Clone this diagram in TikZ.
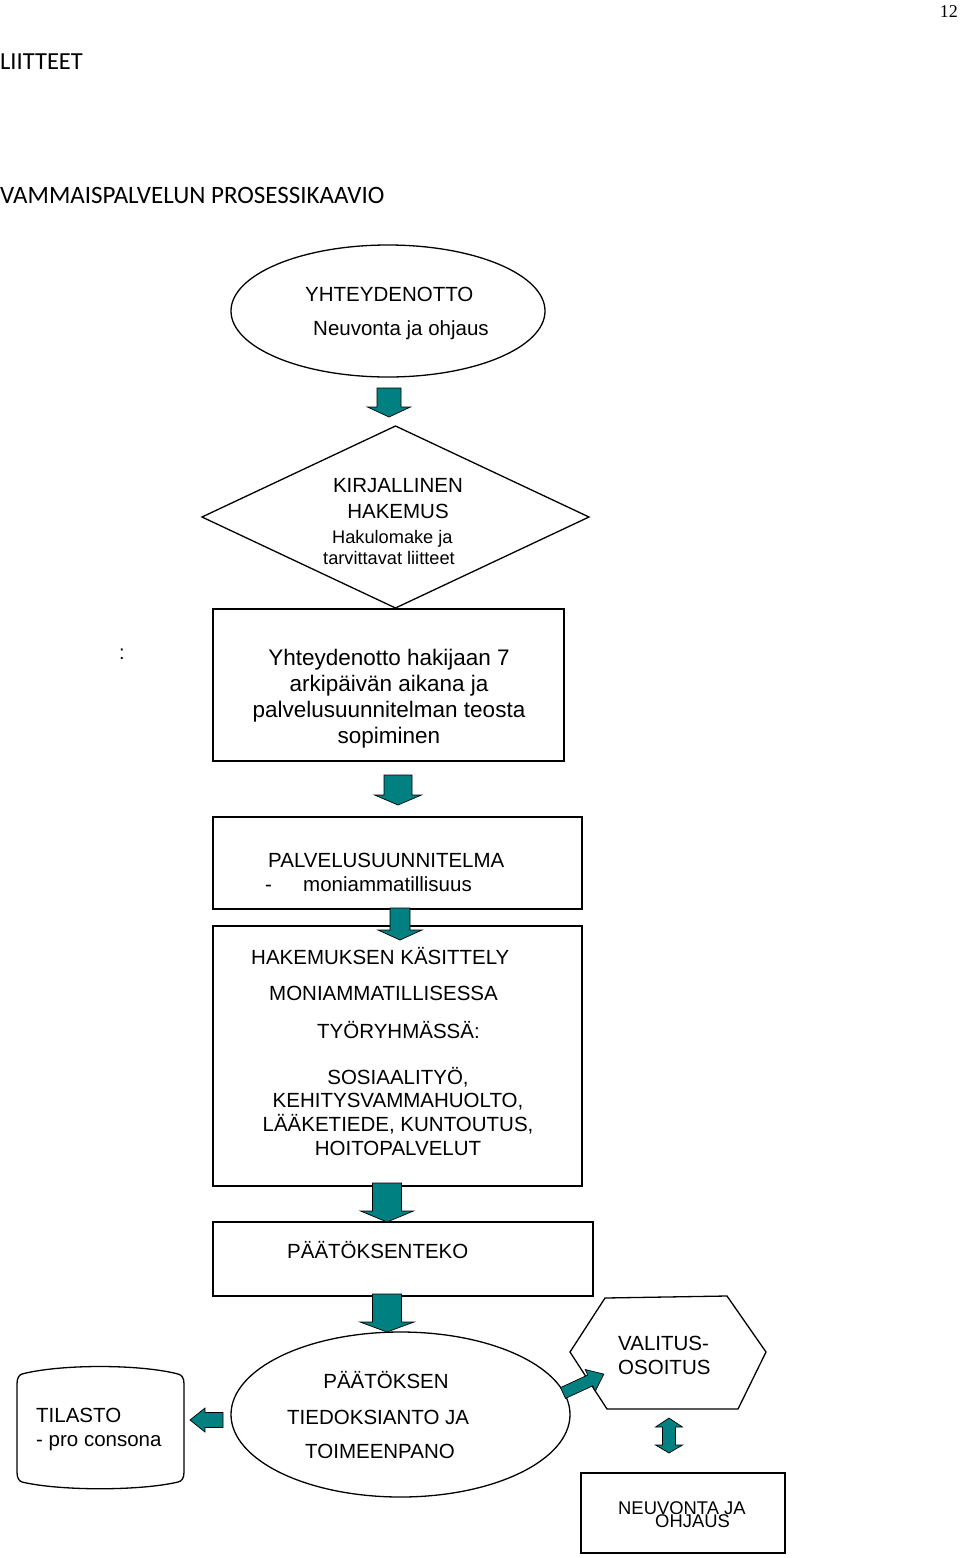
\documentclass[tikz,border=0pt]{standalone}
\usepackage{fontspec}
\setmainfont{Liberation Sans}
\newfontfamily\calfont{Carlito}
\newfontfamily\pgnumfont{Liberation Serif}
\usetikzlibrary{shapes.geometric}
\definecolor{tealblk}{RGB}{0,128,128}
\tikzset{
  shp/.style={draw=black, line width=1.3pt, fill=white, inner sep=0pt, outer sep=0pt},
  blk/.style={fill=tealblk, draw=black, line width=0.7pt, line join=miter},
  txt/.style={inner sep=0pt, anchor=base west, font=\fontsize{20.5}{24}\selectfont},
  ctxt/.style={inner sep=0pt, anchor=base, font=\fontsize{20.5}{24}\selectfont},
  bigtxt/.style={inner sep=0pt, anchor=base, font=\fontsize{22.5}{26}\selectfont},
  smalltxt/.style={inner sep=0pt, anchor=base west, font=\fontsize{18.2}{20}\selectfont},
}
% down block arrow: x, top y, head y, tip y, shaft half width, head half width
\newcommand{\dblk}[6]{\filldraw[blk] (#1-#5,#2) -- (#1+#5,#2) -- (#1+#5,#3) -- (#1+#6,#3) -- (#1,#4) -- (#1-#6,#3) -- (#1-#5,#3) -- cycle;}
\begin{document}
\begin{tikzpicture}[x=1pt,y=-1pt]
\useasboundingbox (0,0) rectangle (960,1558);

% page header
\node[inner sep=0pt, anchor=base east, font=\pgnumfont\fontsize{18}{20}\selectfont] (pg) at (958,17) {12};
\node[inner sep=0pt, anchor=base west, font=\calfont\fontsize{24.5}{28}\selectfont] (lii) at (0,69) {LIITTEET};
\node[inner sep=0pt, anchor=base west, font=\calfont\fontsize{25}{28}\selectfont] (ttl) at (0,203) {VAMMAISPALVELUN PROSESSIKAAVIO};

% shapes
\node[shp, ellipse, minimum width=314pt, minimum height=132pt] (e1) at (388,311) {};
\node[shp, diamond, minimum width=387pt, minimum height=182pt] (d1) at (395.5,517) {};
\node[shp, rectangle, minimum width=351pt, minimum height=152pt] (b1) at (388.5,685) {};
\node[shp, rectangle, minimum width=369pt, minimum height=92pt] (b2) at (397.5,863) {};
\node[shp, rectangle, minimum width=369pt, minimum height=260pt] (b3) at (397.5,1056) {};
\node[shp, rectangle, minimum width=380pt, minimum height=74pt] (b4) at (403,1259) {};
\node[shp, ellipse, minimum width=339pt, minimum height=165pt] (e2) at (400.5,1414.5) {};
\node[shp, rectangle, minimum width=204pt, minimum height=80pt] (b5) at (683,1513) {};

% TILASTO shape
\draw[shp] (22,1374) .. controls (60,1364) and (140,1364) .. (178,1374)
  .. controls (182,1375) and (184,1378) .. (184,1384) -- (184,1472)
  .. controls (184,1478) and (182,1481) .. (178,1482)
  .. controls (140,1491) and (60,1491) .. (22,1482)
  .. controls (19,1481) and (17,1478) .. (17,1472) -- (17,1384)
  .. controls (17,1378) and (19,1375) .. (22,1374) -- cycle;
\coordinate (tl) at (100,1427);

% hexagon
\draw[shp, line join=miter] (570,1352) -- (605,1298) -- (727,1296) -- (766,1352) -- (738,1409) -- (607,1409) -- cycle;
\coordinate (hx) at (668,1352);

% texts
\node[txt] (t1a) at (305,301.5) {YHTEYDENOTTO};
\node[txt] (t1b) at (313,335) {Neuvonta ja ohjaus};

\node[ctxt] (t2a) at (398,492) {KIRJALLINEN};
\node[ctxt] (t2b) at (398,518) {HAKEMUS};
\node[smalltxt] (t2c) at (332,543.5) {Hakulomake ja};
\node[smalltxt] (t2d) at (323,564) {tarvittavat liitteet};

\node[inner sep=0pt, anchor=base, font=\fontsize{20}{24}\selectfont] (colon) at (122,659) {:};

\node[bigtxt] (t3a) at (389,665) {Yhteydenotto hakijaan 7};
\node[bigtxt] (t3b) at (389,691) {arkipäivän aikana ja};
\node[bigtxt] (t3c) at (389,717) {palvelusuunnitelman teosta};
\node[bigtxt] (t3d) at (389,743) {sopiminen};

\node[txt] (t4a) at (268,867.5) {PALVELUSUUNNITELMA};
\node[txt] (t4b) at (265,891) {-};
\node[txt] (t4c) at (303,891) {moniammatillisuus};

\node[txt] (t5a) at (251,964.5) {HAKEMUKSEN KÄSITTELY};
\node[txt] (t5b) at (269,1000.5) {MONIAMMATILLISESSA};
\node[txt] (t5c) at (317,1038) {TYÖRYHMÄSSÄ:};
\node[ctxt] (t5d) at (398,1084) {SOSIAALITYÖ,};
\node[ctxt] (t5e) at (398,1107.5) {KEHITYSVAMMAHUOLTO,};
\node[ctxt] (t5f) at (398,1131) {LÄÄKETIEDE, KUNTOUTUS,};
\node[ctxt] (t5g) at (398,1155.5) {HOITOPALVELUT};

\node[txt] (t6a) at (287,1258) {PÄÄTÖKSENTEKO};

\node[ctxt] (t7a) at (386,1388) {PÄÄTÖKSEN};
\node[txt] (t7b) at (287,1424.5) {TIEDOKSIANTO JA};
\node[txt] (t7c) at (305,1458.5) {TOIMEENPANO};

\node[txt] (t8a) at (36,1422.5) {TILASTO};
\node[txt] (t8b) at (36,1446) {- pro consona};

\node[txt] (t9a) at (618,1350.5) {VALITUS-};
\node[txt] (t9b) at (618,1374.5) {OSOITUS};

\node[inner sep=0pt, anchor=base west, font=\fontsize{18.4}{20}\selectfont] (t10a) at (618,1514) {NEUVONTA JA};
\node[inner sep=0pt, anchor=base west, font=\fontsize{18.4}{20}\selectfont] (t10b) at (655,1527.5) {OHJAUS};

% block arrows
\dblk{389}{388}{407}{417}{12}{21.5}
\dblk{398}{775}{795}{805}{14}{23.5}
\dblk{400}{908}{930}{940}{10}{22}
\dblk{387}{1183}{1211}{1222}{14.5}{26.5}
\dblk{387}{1294}{1322}{1332}{14.5}{27}
% left arrow to TILASTO
\filldraw[blk] (223,1412.5) -- (205,1412.5) -- (205,1408) -- (190,1420) -- (205,1432) -- (205,1427.5) -- (223,1427.5) -- cycle;
% diagonal arrow to VALITUS-OSOITUS
\filldraw[blk] (560.5,1387.6) -- (587.7,1375.0) -- (585.2,1369.5) -- (603.8,1374.1) -- (595.2,1391.3) -- (592.7,1385.8) -- (565.5,1398.4) -- cycle;
% double arrow
\filldraw[blk] (669,1418) -- (682.5,1427) -- (675.5,1427) -- (675.5,1445) -- (682.5,1445) -- (669,1453) -- (655.5,1445) -- (662.5,1445) -- (662.5,1427) -- (655.5,1427) -- cycle;
\end{tikzpicture}
\end{document}
